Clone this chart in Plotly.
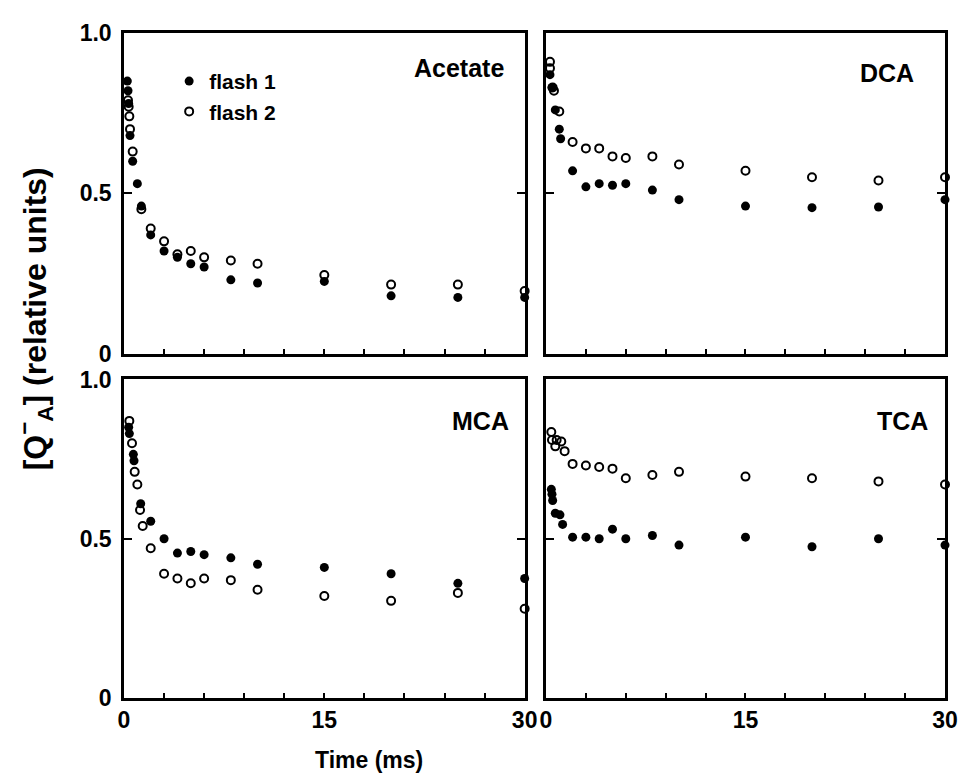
import plotly.graph_objects as go

# ---------------- data ----------------
panel_names = ["Acetate", "DCA", "MCA", "TCA"]

ac_t1 = [0.25, 0.3, 0.35, 0.45, 0.65, 1.0, 1.3, 2, 3, 4, 5, 6, 8, 10, 15, 20, 25, 30]
ac_v1 = [0.85, 0.82, 0.78, 0.68, 0.60, 0.53, 0.46, 0.37, 0.32, 0.30, 0.28, 0.27, 0.23, 0.22, 0.225, 0.18, 0.175, 0.175]
ac_t2 = [0.3, 0.35, 0.4, 0.45, 0.65, 1.3, 2, 3, 4, 5, 6, 8, 10, 15, 20, 25, 30]
ac_v2 = [0.79, 0.77, 0.74, 0.70, 0.63, 0.45, 0.39, 0.35, 0.31, 0.32, 0.30, 0.29, 0.28, 0.245, 0.215, 0.215, 0.195]

dca_t1 = [0.3, 0.45, 0.7, 1.0, 1.1, 2, 3, 4, 5, 6, 8, 10, 15, 20, 25, 30]
dca_v1 = [0.87, 0.83, 0.76, 0.70, 0.67, 0.57, 0.52, 0.53, 0.525, 0.53, 0.51, 0.48, 0.46, 0.455, 0.457, 0.48]
dca_t2 = [0.3, 0.3, 0.5, 0.6, 1.0, 2, 3, 4, 5, 6, 8, 10, 15, 20, 25, 30]
dca_v2 = [0.91, 0.89, 0.83, 0.82, 0.755, 0.66, 0.64, 0.64, 0.615, 0.61, 0.615, 0.59, 0.57, 0.55, 0.54, 0.55]

mca_t1 = [0.35, 0.4, 0.7, 0.75, 1.25, 2, 3, 4, 5, 6, 8, 10, 15, 20, 25, 30]
mca_v1 = [0.85, 0.83, 0.765, 0.745, 0.61, 0.555, 0.50, 0.455, 0.46, 0.45, 0.44, 0.42, 0.41, 0.39, 0.36, 0.375]
mca_t2 = [0.4, 0.6, 0.8, 1.0, 1.2, 1.4, 2, 3, 4, 5, 6, 8, 10, 15, 20, 25, 30]
mca_v2 = [0.87, 0.80, 0.71, 0.67, 0.59, 0.54, 0.47, 0.39, 0.375, 0.36, 0.375, 0.37, 0.34, 0.32, 0.305, 0.33, 0.28]

tca_t1 = [0.4, 0.45, 0.5, 0.7, 1.05, 1.25, 2, 3, 4, 5, 6, 8, 10, 15, 20, 25, 30]
tca_v1 = [0.655, 0.64, 0.62, 0.58, 0.575, 0.545, 0.505, 0.505, 0.50, 0.53, 0.50, 0.51, 0.48, 0.505, 0.475, 0.50, 0.48]
tca_t2 = [0.4, 0.45, 0.7, 0.8, 1.15, 1.4, 2, 3, 4, 5, 6, 8, 10, 15, 20, 25, 30]
tca_v2 = [0.835, 0.81, 0.79, 0.81, 0.805, 0.775, 0.735, 0.73, 0.725, 0.72, 0.69, 0.70, 0.71, 0.695, 0.69, 0.68, 0.67]

x_tickvals = [0, 15, 30]
x_ticktext = ["0", "15", "30"]
x_minor_step = 3
y_tickvals = [0, 0.5, 1.0]
y_ticktext = ["0", "0.5", "1.0"]

series_names = ["flash 1", "flash 2"]

# ---------------- figure ----------------
FONT = "Liberation Sans, Arial, Helvetica, sans-serif"
fig = go.Figure()

panels = [
    (ac_t1, ac_v1, ac_t2, ac_v2, "x", "y"),
    (dca_t1, dca_v1, dca_t2, dca_v2, "x2", "y2"),
    (mca_t1, mca_v1, mca_t2, mca_v2, "x3", "y3"),
    (tca_t1, tca_v1, tca_t2, tca_v2, "x4", "y4"),
]

for i, (t1, v1, t2, v2, xa, ya) in enumerate(panels):
    fig.add_trace(go.Scatter(
        x=t1, y=v1, mode="markers", xaxis=xa, yaxis=ya,
        name=series_names[0], showlegend=(i == 0), cliponaxis=False,
        marker=dict(symbol="circle", size=9, color="black"),
    ))
    fig.add_trace(go.Scatter(
        x=t2, y=v2, mode="markers", xaxis=xa, yaxis=ya,
        name=series_names[1], showlegend=(i == 0), cliponaxis=False,
        marker=dict(symbol="circle-open", size=8, color="black",
                    line=dict(width=2, color="black")),
    ))

xdom = [[0, 0.488], [0.514, 1]]
ydom = [[0.518, 1], [0, 0.479]]

axis_common = dict(showline=True, linecolor="black", linewidth=2.5,
                   showgrid=False, zeroline=False)

layout_axes = {}
for i in range(4):
    r, c = divmod(i, 2)
    sfx = "" if i == 0 else str(i + 1)
    layout_axes["xaxis" + sfx] = dict(
        axis_common, domain=xdom[c], range=[0, 30], anchor="y" + sfx,
        tickmode="array", tickvals=x_tickvals, ticktext=x_ticktext,
        ticks="inside", ticklen=5, tickwidth=2, tickcolor="black",
        minor=dict(ticks="inside", dtick=x_minor_step, tick0=0, ticklen=5,
                   tickwidth=2, tickcolor="black", showgrid=False),
        mirror=True, showticklabels=(r == 1),
        tickfont=dict(family=FONT, size=23, color="black", weight="bold"),
    )
    layout_axes["yaxis" + sfx] = dict(
        axis_common, domain=ydom[r], range=[0, 1.0], anchor="x" + sfx,
        tickmode="array", tickvals=y_tickvals, ticktext=y_ticktext,
        ticks="inside", ticklen=8, tickwidth=2, tickcolor="black",
        mirror="ticks", showticklabels=(c == 0), ticklabelstandoff=5,
        tickfont=dict(family=FONT, size=23, color="black", weight="bold"),
    )

fig.update_layout(**layout_axes)

annots = []
label_pos = [("x", "y", 28.6, 0.89), ("x2", "y2", 27.8, 0.875),
             ("x3", "y3", 29.0, 0.87), ("x4", "y4", 28.9, 0.87)]
for name, (xr, yr, xx, yy) in zip(panel_names, label_pos):
    annots.append(dict(text="<b>" + name + "</b>", x=xx, y=yy, xref=xr, yref=yr,
                       xanchor="right", yanchor="middle", showarrow=False,
                       font=dict(family=FONT, size=25, color="black")))

annots.append(dict(text="<b>Time (ms)</b>", x=0.298, y=-0.093, xref="paper", yref="paper",
                   xanchor="center", yanchor="middle", showarrow=False,
                   font=dict(family=FONT, size=23, color="black")))
annots.append(dict(text="<b>[Q<sup>−</sup><sub>A</sub>] (relative units)</b>",
                   x=-0.108, y=0.57, xref="paper", yref="paper", textangle=-90,
                   xanchor="center", yanchor="middle", showarrow=False,
                   font=dict(family=FONT, size=32, color="black")))

# page body adds an 8 px offset, so the figure is shifted by that amount
fig.update_layout(
    width=962, height=773,
    margin=dict(l=116, r=20, t=22, b=83),
    paper_bgcolor="white", plot_bgcolor="white",
    annotations=annots,
    showlegend=True,
    legend=dict(x=0.055, y=0.958, xanchor="left", yanchor="top",
                bgcolor="rgba(0,0,0,0)", borderwidth=0,
                font=dict(family=FONT, size=21, color="black", weight="bold"),
                itemwidth=30, tracegroupgap=0),
)

fig.write_html("out.html")
